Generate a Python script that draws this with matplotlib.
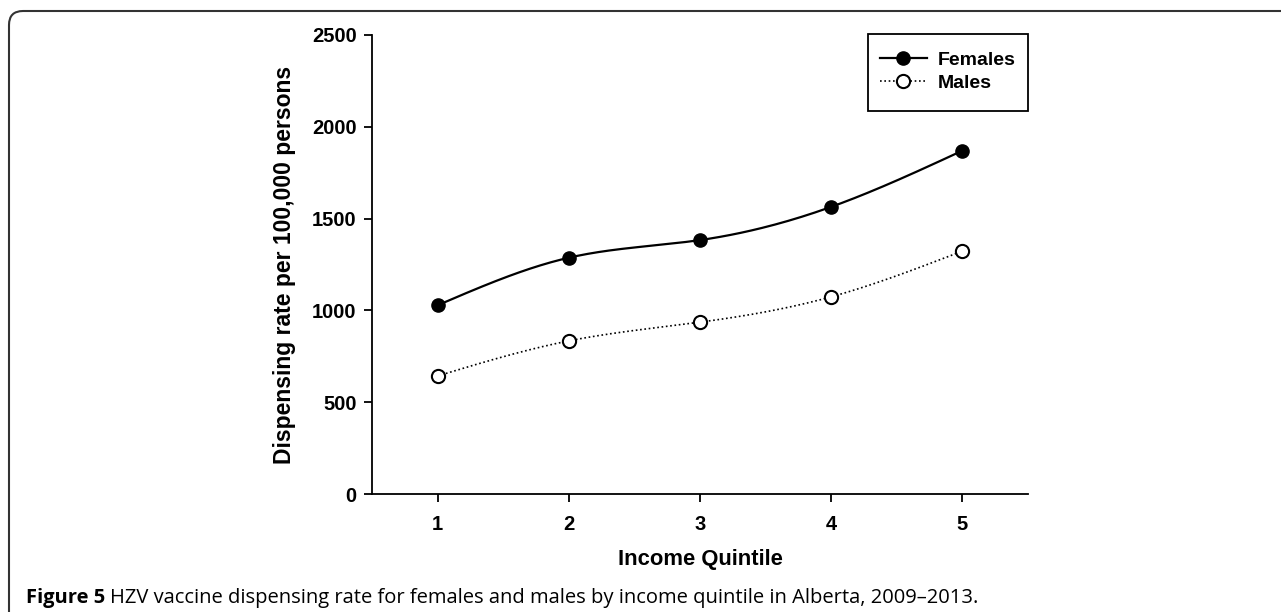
import numpy as np
import matplotlib
matplotlib.use("Agg")
import matplotlib.pyplot as plt
from matplotlib.patches import FancyBboxPatch, Rectangle

quintiles = [1, 2, 3, 4, 5]
females = [1028, 1287, 1383, 1564, 1870]
males = [643, 834, 936, 1074, 1323]
y_ticks = [0, 500, 1000, 1500, 2000, 2500]

W, H = 1281, 612


def natural_spline(x, y, n=200):
    # natural cubic spline through the points, used only to draw the smooth line
    x = np.asarray(x, float)
    y = np.asarray(y, float)
    k = len(x)
    h = np.diff(x)
    A = np.zeros((k, k))
    b = np.zeros(k)
    A[0, 0] = A[-1, -1] = 1
    for i in range(1, k - 1):
        A[i, i - 1] = h[i - 1]
        A[i, i] = 2 * (h[i - 1] + h[i])
        A[i, i + 1] = h[i]
        b[i] = 6 * ((y[i + 1] - y[i]) / h[i] - (y[i] - y[i - 1]) / h[i - 1])
    M = np.linalg.solve(A, b)
    xs = np.linspace(x[0], x[-1], n)
    idx = np.clip(np.searchsorted(x, xs) - 1, 0, k - 2)
    x0, x1 = x[idx], x[idx + 1]
    hh = x1 - x0
    t0, t1 = x1 - xs, xs - x0
    ys = (M[idx] * t0 ** 3 + M[idx + 1] * t1 ** 3) / (6 * hh) \
        + (y[idx] / hh - M[idx] * hh / 6) * t0 \
        + (y[idx + 1] / hh - M[idx + 1] * hh / 6) * t1
    return xs, ys


plt.rcParams["font.family"] = ["Liberation Sans", "DejaVu Sans"]
fig = plt.figure(figsize=(W / 100, H / 100), dpi=100)
ax = fig.add_axes([372 / W, 1 - 494 / H, 656 / W, 459 / H])

fx, fy = natural_spline(quintiles, females)
mx, my = natural_spline(quintiles, males)
ax.plot(fx, fy, color="black", lw=1.6)
ax.plot(mx, my, color="black", lw=1.2, linestyle=(0, (1, 1.6)))
ax.plot(quintiles, females, "o", color="black", ms=9.5)
ax.plot(quintiles, males, "o", mfc="white", mec="black", mew=1.5, ms=9.5)

# legend handles
ax.plot([], [], color="black", lw=1.6, marker="o", ms=9.5, label="Females")
ax.plot([], [], color="black", lw=1.2, linestyle=(0, (1, 1.6)), marker="o",
        mfc="white", mec="black", mew=1.5, ms=9.5, label="Males")

ax.set_xlim(0.5, 5.5)
ax.set_ylim(0, 2500)
ax.set_xticks(quintiles)
ax.set_yticks(y_ticks)
for s in ["top", "right"]:
    ax.spines[s].set_visible(False)
for s in ["left", "bottom"]:
    ax.spines[s].set_linewidth(1.3)
ax.tick_params(direction="out", length=6, width=1.3, labelsize=14.5)
ax.tick_params(axis="x", pad=9)
ax.tick_params(axis="y", pad=5)
for lab in ax.get_xticklabels() + ax.get_yticklabels():
    lab.set_fontweight("bold")

ax.set_ylabel("Dispensing rate per 100,000 persons", fontsize=16.5,
              fontweight="bold", va="center")
ax.yaxis.set_label_coords((284 - 372) / 656, 0.5)
fig.text(700 / W, 1 - 560 / H, "Income Quintile", fontsize=15.8, fontweight="bold",
         ha="center", va="center")

# legend box drawn separately so the padding can follow the original
bx0, bx1, by0, by1 = 868, 1028, 34, 111
ax.add_patch(Rectangle(((bx0 - 372) / 656, (494 - by1) / 459),
                       (bx1 - bx0) / 656, (by1 - by0) / 459,
                       transform=ax.transAxes, fill=False, edgecolor="black",
                       lw=1.3, clip_on=False, zorder=5))
leg = ax.legend(loc="center",
                bbox_to_anchor=(((bx0 + bx1) / 2 - 372) / 656, (494 - (by0 + by1) / 2 + 1) / 459),
                frameon=False, handlelength=2.4, handletextpad=0.6,
                borderpad=0, labelspacing=0.25,
                prop={"weight": "bold", "size": 14})

# caption
cap_y = 1 - 598 / H
t1 = fig.text(26 / W, cap_y, "Figure 5", fontsize=14.5, fontweight="bold",
              family=["Open Sans", "DejaVu Sans"], va="center", ha="left")
fig.canvas.draw()
bb = t1.get_window_extent()
fig.text((bb.x1 + 5) / W, cap_y,
         "HZV vaccine dispensing rate for females and males by income quintile in Alberta, 2009\u20132013.",
         fontsize=14.5, family=["Open Sans", "DejaVu Sans"], va="center", ha="left")

# rounded frame round the figure
frame = FancyBboxPatch((9, -30), W + 50, H - 11 + 30,
                       boxstyle="round,pad=0,rounding_size=14",
                       transform=None, fill=False, edgecolor="#333333", lw=1.5)
fig.patches.append(frame)

fig.savefig("out.png", dpi=100)
